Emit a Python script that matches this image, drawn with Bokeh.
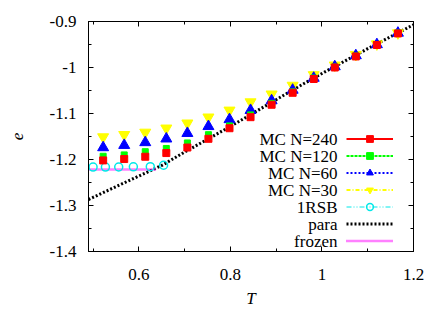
from bokeh.plotting import figure
from bokeh.models import (Range1d, LinearAxis, FixedTicker, CustomJSTickFormatter,
                          Legend, LegendItem, CustomLabelingPolicy, Label)
from bokeh.core.properties import value
from bokeh.embed import file_html
from bokeh.resources import INLINE

# ---- data ----
T_mc = [0.522, 0.568, 0.614, 0.660, 0.706, 0.752, 0.798, 0.844, 0.890, 0.936,
        0.982, 1.028, 1.074, 1.120, 1.166]
e_240 = [-1.202, -1.199, -1.194, -1.186, -1.174, -1.155, -1.132, -1.108, -1.081, -1.055,
         -1.025, -1.000, -0.976, -0.951, -0.926]
e_120 = [-1.193, -1.190, -1.183, -1.176, -1.164, -1.146, -1.127, -1.103, -1.078, -1.053,
         -1.023, -0.999, -0.975, -0.950, -0.925]
e_60 = [-1.174, -1.169, -1.163, -1.155, -1.143, -1.128, -1.113, -1.093, -1.072, -1.049,
        -1.023, -0.998, -0.974, -0.950, -0.925]
e_30 = [-1.151, -1.146, -1.141, -1.132, -1.121, -1.108, -1.093, -1.075, -1.058, -1.039,
        -1.016, -0.995, -0.972, -0.949, -0.925]

T_1rsb = [0.500, 0.527, 0.556, 0.588, 0.625, 0.654]
e_1rsb = [-1.2165, -1.2165, -1.2163, -1.2160, -1.2155, -1.2125]

T_para = [0.49, 0.55, 0.60, 0.65, 0.70, 0.75, 0.80, 0.85, 0.90, 0.95, 1.00, 1.05, 1.10, 1.15, 1.20]
e_para = [-1.287, -1.259, -1.236, -1.213, -1.184, -1.156, -1.128, -1.099, -1.070, -1.041,
          -1.013, -0.986, -0.959, -0.933, -0.907]

T_frozen = [0.49, 0.637]
e_frozen = [-1.222, -1.222]

x_ticks = [0.6, 0.8, 1.0, 1.2]
x_minor = [0.5, 0.7, 0.9, 1.1]
y_ticks = [-1.4, -1.3, -1.2, -1.1, -1.0, -0.9]
y_minor = [-1.35, -1.25, -1.15, -1.05, -0.95]

legend_labels = ["MC N=240", "MC N=120", "MC N=60", "MC N=30", "1RSB", "para", "frozen"]

FONT = "Liberation Serif"

p = figure(width=443, height=310, output_backend="svg", toolbar_location=None,
           x_range=Range1d(0.49, 1.2), y_range=Range1d(-1.4, -0.9),
           min_border_left=88, min_border_right=30, min_border_top=21, min_border_bottom=52)
p.xgrid.visible = False
p.ygrid.visible = False
p.outline_line_color = "black"
p.outline_line_width = 1
p.background_fill_color = "white"
p.border_fill_color = "white"

fmt = CustomJSTickFormatter(code="return String(Math.round(tick*100)/100);")
no_labels = CustomLabelingPolicy(
    code="for (let i = 0; i < indices.size; i++) { indices.unset(i) } return indices")

def style_axis(ax, labels=True):
    ax.axis_line_color = "black"
    ax.axis_line_width = 1
    ax.major_tick_in = 5
    ax.major_tick_out = 0
    ax.minor_tick_in = 3
    ax.minor_tick_out = 0
    ax.major_tick_line_color = "black"
    ax.minor_tick_line_color = "black"
    ax.major_label_text_font = FONT
    ax.major_label_text_font_size = "17px"
    ax.major_label_text_color = "black"
    ax.axis_label_text_font = FONT
    ax.axis_label_text_font_style = "italic"
    ax.axis_label_text_font_size = "17px"
    ax.axis_label_text_color = "black"
    ax.formatter = fmt
    if not labels:
        ax.major_label_policy = no_labels
        ax.major_label_standoff = 0

xa = p.xaxis[0]
xa.ticker = FixedTicker(ticks=x_ticks, minor_ticks=x_minor)
style_axis(xa)
xa.axis_label = "T"
xa.major_label_standoff = 17
xa.axis_label_standoff = 6

ya = p.yaxis[0]
ya.ticker = FixedTicker(ticks=y_ticks, minor_ticks=y_minor)
style_axis(ya)
ya.axis_label = "e"
ya.major_label_standoff = 12
ya.axis_label_standoff = 24

top = LinearAxis(ticker=FixedTicker(ticks=x_ticks, minor_ticks=x_minor))
style_axis(top, labels=False)
p.add_layout(top, "above")
right = LinearAxis(ticker=FixedTicker(ticks=y_ticks, minor_ticks=y_minor))
style_axis(right, labels=False)
p.add_layout(right, "right")

# ---- curves ----
r_para = p.line(T_para, e_para, line_color="black", line_width=3, line_dash="2 2")
r_frozen = p.line(T_frozen, e_frozen, line_color="#ff00ff", line_width=2.5, line_dash="1 1")
r_1rsb_l = p.line(T_1rsb, e_1rsb, line_color="#00e8e8", line_width=1,
                  line_dash="5 2 1 2 1 2", visible=False)
r_1rsb_m = p.scatter(T_1rsb, e_1rsb, marker="circle", size=8, fill_color=None,
                     line_color="#00e8e8", line_width=1.5)

series = [
    (e_30, "#ffff00", "inverted_triangle", 11, "4 2 1 2"),
    (e_60, "#0000ff", "triangle", 11, "2 2"),
    (e_120, "#00ff00", "square", 6, "3 1"),
    (e_240, "#ff0000", "square", 7, None),
]
mc_items = {}
for ys, col, mk, sz, dash in series:
    sr = p.scatter(T_mc, ys, marker=mk, size=sz, fill_color=col, line_color=col)
    kw = dict(line_color=col, line_width=2)
    if dash:
        kw["line_dash"] = dash
    lr = p.line(T_mc, ys, visible=False, **kw)  # key sample only (points only in plot)
    mc_items[col] = [lr, sr]

rend = [mc_items["#ff0000"], mc_items["#00ff00"], mc_items["#0000ff"], mc_items["#ffff00"],
        [r_1rsb_l, r_1rsb_m], [r_para], [r_frozen]]
items = [LegendItem(label=value(""), renderers=r) for r in rend]

row_h = 17
leg_y = 2
n = len(legend_labels)
leg = Legend(items=items, location=(258, leg_y), padding=0, margin=0, spacing=0,
             glyph_width=47, glyph_height=row_h, label_height=row_h, label_width=0,
             label_standoff=0, border_line_alpha=0, background_fill_alpha=0,
             label_text_font_size="1px", click_policy="none")
p.add_layout(leg)

for i, txt in enumerate(legend_labels):
    yc = leg_y + n * row_h - row_h * i - row_h / 2
    p.add_layout(Label(x=249, y=yc, x_units="screen", y_units="screen", text=txt,
                       text_align="right", text_baseline="middle",
                       text_font=FONT, text_font_size="17px", text_color="black"))

open("out.html", "w").write(file_html(p, INLINE))
